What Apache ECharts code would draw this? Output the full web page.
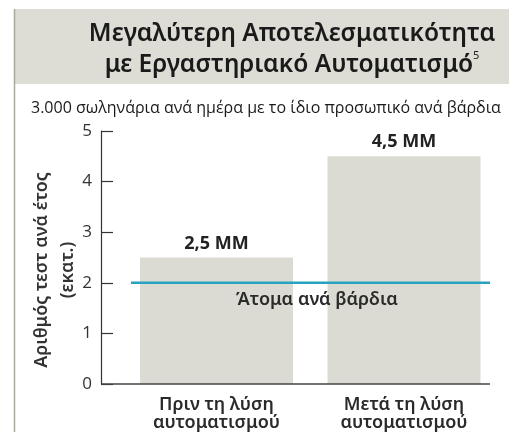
<!DOCTYPE html>
<html><head><meta charset="utf-8">
<script src="https://cdn.jsdelivr.net/npm/echarts@6/dist/echarts.min.js"></script>
<style>html,body{margin:0;padding:0;background:#fff}#c{width:509px;height:432px}</style>
</head><body><div id="c"></div>
<script>
var titleLines = ['Μεγαλύτερη Αποτελεσματικότητα', 'με Εργαστηριακό Αυτοματισμό'];
var titleNote = '5';
var subtitle = '3.000 σωληνάρια ανά ημέρα με το ίδιο προσωπικό ανά βάρδια';
var categories = ['Πριν τη λύση\nαυτοματισμού', 'Μετά τη λύση\nαυτοματισμού'];
var testsPerYear = [2.5, 4.5];
var valueLabels = ['2,5 MM', '4,5 MM'];
var staffPerShift = 2;
var staffLabel = 'Άτομα ανά βάρδια';
var yTicks = [0, 1, 2, 3, 4, 5];
var yName = 'Αριθμός τεστ ανά έτος\n(εκατ.)';

var FONT = 'Open Sans';
var SEMI = 'Noto Sans';
var chart = echarts.init(document.getElementById('c'), null, {renderer: 'canvas'});
var option = {
  animation: false,
  backgroundColor: '#fff',
  title: [{
    text: titleLines[0] + '\n' + titleLines[1] + '{sup|' + titleNote + '}',
    left: 287, top: 14, textAlign: 'center',
    textStyle: {
      fontFamily: SEMI, fontSize: 24.5, fontWeight: 600, color: '#1a1a1a', lineHeight: 31,
      rich: {sup: {fontFamily: SEMI, fontSize: 11, fontWeight: 400, color: '#1a1a1a', verticalAlign: 'top', padding: [0,0,4,0], lineHeight: 31}}
    }
  }, {
    text: subtitle, left: 26, top: 95,
    textStyle: {fontFamily: FONT, fontSize: 16, fontWeight: 400, color: '#1a1a1a'}
  }],
  grid: {left: 122.75, right: 11.25, top: 131, bottom: 48, containLabel: false},
  xAxis: {
    type: 'category', data: categories,
    axisLine: {show: false}, axisTick: {show: false},
    axisLabel: {fontFamily: SEMI, fontSize: 18, fontWeight: 600, color: '#2a2a2a', lineHeight: 18, margin: 12}
  },
  yAxis: {
    type: 'value', min: 0, max: 5, interval: 1, offset: 21.75,
    splitLine: {show: false},
    axisLine: {show: true, lineStyle: {color: '#333', width: 1.2}},
    axisTick: {show: true, inside: true, length: 12, lineStyle: {color: '#333', width: 1.2}},
    axisLabel: {fontFamily: FONT, fontSize: 17, color: '#333', margin: 9,
      formatter: function (v) { return yTicks.indexOf(v) >= 0 ? String(v) : ''; }}
  },
  series: [{
    type: 'bar', data: testsPerYear, barWidth: 153,
    itemStyle: {color: '#dcdbd3'},
    label: {show: true, position: 'top', distance: 5,
      formatter: function (p) { return valueLabels[p.dataIndex]; },
      fontFamily: FONT, fontSize: 18, fontWeight: 700, color: '#222'}
  }]
};
chart.setOption(option);

function drawExtras() {
  var y0 = chart.convertToPixel({yAxisIndex: 0}, 0);
  var yS = chart.convertToPixel({yAxisIndex: 0}, staffPerShift);
  chart.setOption({graphic: [
    {type: 'rect', z: -1, shape: {x: 15, y: 9, width: 494, height: 75}, style: {fill: '#dddcd5'}},
    {type: 'line', shape: {x1: 14.5, y1: 9, x2: 14.5, y2: 432}, style: {stroke: '#a9a99b', lineWidth: 1.5}},
    {type: 'line', z: 10, shape: {x1: 101, y1: y0, x2: 490, y2: y0}, style: {stroke: '#444', lineWidth: 1.5}},
    {type: 'line', z: 10, shape: {x1: 131, y1: yS, x2: 490, y2: yS}, style: {stroke: '#28a3bf', lineWidth: 2.5}},
    {type: 'text', z: 10, x: 317, y: yS + 17, style: {text: staffLabel, fontFamily: SEMI, fontSize: 18, fontWeight: 600, fill: '#2a2a2a', textAlign: 'center', textVerticalAlign: 'middle'}},
    {type: 'text', z: 10, x: 55, y: 270, rotation: Math.PI / 2, style: {text: yName, fontFamily: SEMI, fontSize: 18, fontWeight: 600, fill: '#333', lineHeight: 26, textAlign: 'center', textVerticalAlign: 'middle'}}
  ]});
}
drawExtras();
</script></body></html>
